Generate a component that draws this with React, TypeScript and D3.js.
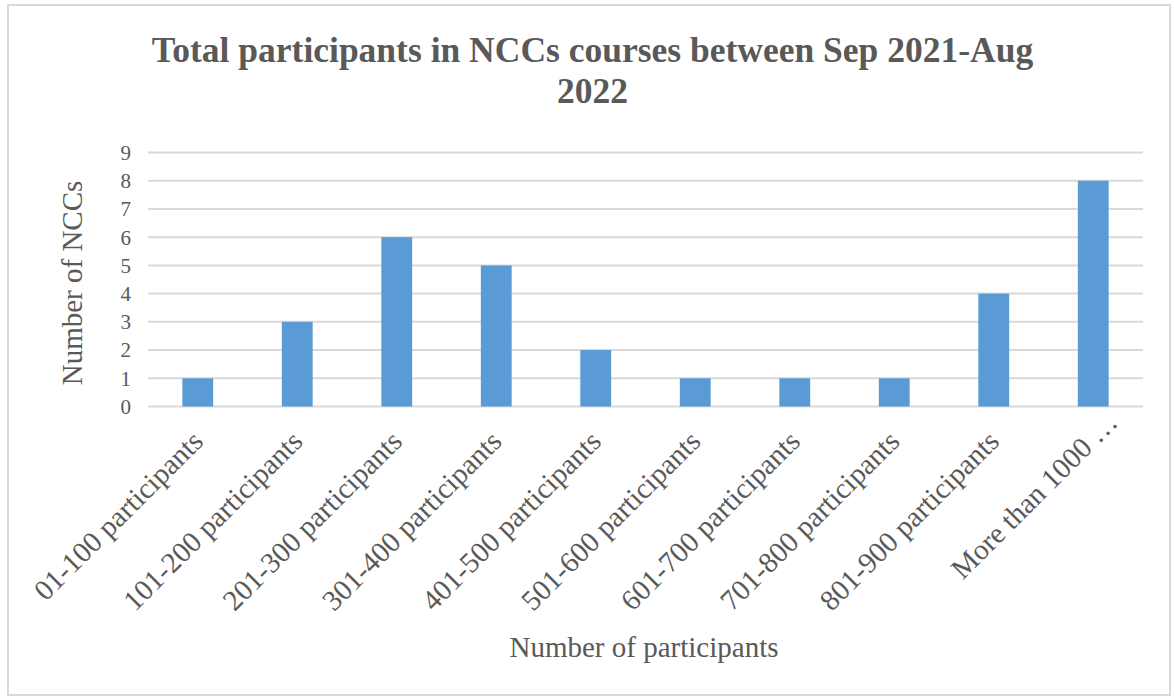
import React from "react";
import * as d3 from "d3";

const categories = [
  "01-100 participants",
  "101-200 participants",
  "201-300 participants",
  "301-400 participants",
  "401-500 participants",
  "501-600 participants",
  "601-700 participants",
  "701-800 participants",
  "801-900 participants",
  "More than 1000 …",
];
const values = [1, 3, 6, 5, 2, 1, 1, 1, 4, 8];
const yTicks = [0, 1, 2, 3, 4, 5, 6, 7, 8, 9];
const titleLines = ["Total participants in NCCs courses between Sep 2021-Aug", "2022"];
const xTitle = "Number of participants";
const yTitle = "Number of NCCs";

const W = 1174;
const H = 698;
const FONT = "'Liberation Serif', 'Times New Roman', serif";
const TEXT = "#595959";
const GRID = "#d9d9d9";
const BAR = "#5b9bd5";

export default function App() {
  const left = 148, right = 1143, top = 152.5, bottom = 406.5;
  const x = d3.scaleBand<string>().domain(categories).range([left, right]).paddingInner(0.69).paddingOuter(0.345);
  const y = d3.scaleLinear().domain([0, 9]).range([bottom, top]);

  return (
    <svg width={W} height={H} style={{ position: "absolute", left: 0, top: 0, background: "#fff" }} fontFamily={FONT}>
      <rect x={8} y={5} width={1162} height={690} fill="#fff" stroke={GRID} strokeWidth={2} />
      {titleLines.map((t, i) => (
        <text key={i} x={592.5} y={62 + i * 41} textAnchor="middle" fontSize={35.5} fontWeight="bold" fill={TEXT}>{t}</text>
      ))}
      {yTicks.map((t) => (
        <g key={t}>
          <line x1={left} x2={right} y1={y(t)} y2={y(t)} stroke={GRID} strokeWidth={2} />
          <text x={131} y={y(t)} dy="0.35em" textAnchor="end" fontSize={21} fill={TEXT}>{t}</text>
        </g>
      ))}
      {categories.map((c, i) => (
        <rect key={c} x={x(c)!} width={x.bandwidth()} y={y(values[i])} height={y(0) - y(values[i])} fill={BAR} />
      ))}
      {categories.map((c) => {
        const cx = x(c)! + x.bandwidth() / 2 + 7;
        const cy = 443;
        const truncated = c.endsWith("…");
        return (
          <text key={c} transform={`translate(${cx},${cy}) rotate(-45)`} dx={truncated ? 27 : 0} textAnchor="end" fontSize={29} fill={TEXT}>{c}</text>
        );
      })}
      <text x={644} y={657} textAnchor="middle" fontSize={29} fill={TEXT}>{xTitle}</text>
      <text transform={`translate(82,283) rotate(-90)`} textAnchor="middle" fontSize={29} fill={TEXT}>{yTitle}</text>
    </svg>
  );
}
